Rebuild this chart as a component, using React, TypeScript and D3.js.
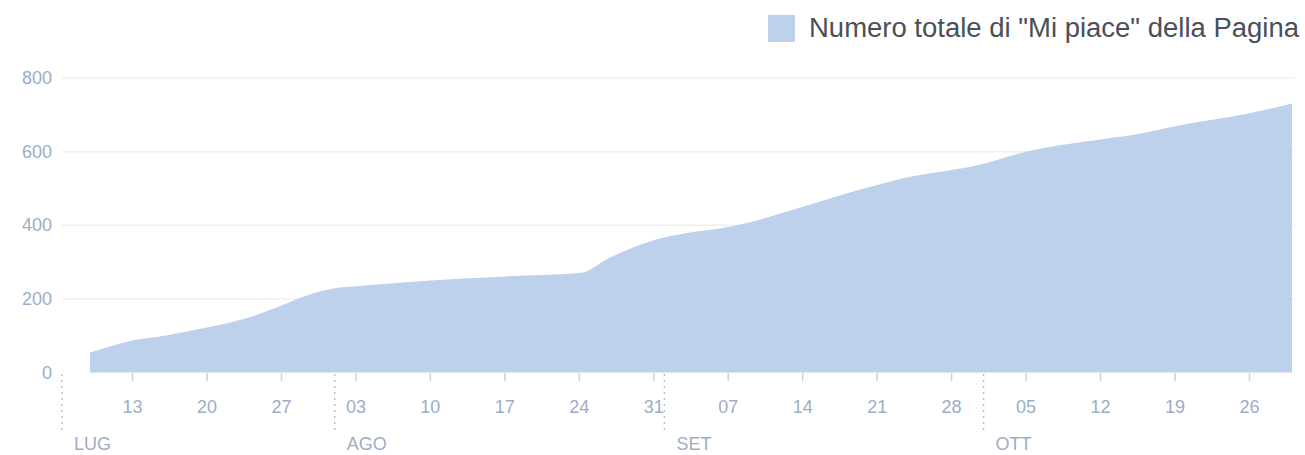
import React from "react";
import * as d3 from "d3";

// likes per day (cumulative)
const dates = [
  "2015-07-09", "2015-07-13", "2015-07-16", "2015-07-20", "2015-07-24", "2015-07-27",
  "2015-07-30", "2015-08-01", "2015-08-03", "2015-08-10", "2015-08-17", "2015-08-24",
  "2015-08-27", "2015-08-31", "2015-09-03", "2015-09-07", "2015-09-14", "2015-09-17",
  "2015-09-21", "2015-09-24", "2015-09-28", "2015-09-30", "2015-10-05", "2015-10-12",
  "2015-10-15", "2015-10-19", "2015-10-26", "2015-10-30"
];
const likes = [
  54, 87, 100, 122, 150, 182,
  215, 229, 234, 250, 261, 270,
  314, 359, 378, 395, 450, 477,
  509, 531, 550, 560, 600, 633,
  645, 669, 704, 731
];
const yTicks = [0, 200, 400, 600, 800];
const monthNames = ["LUG", "AGO", "SET", "OTT"];
const legendLabel = 'Numero totale di "Mi piace" della Pagina';

const W = 1305;
const H = 455;
const left = 62;
const right = 1295;
const AREA = "#bdd1ec";
const AXIS_TEXT = "#9cadc8";
const FONT = "Helvetica, Arial, 'Liberation Sans', sans-serif";

const App = () => {
  const parse = d3.timeParse("%Y-%m-%d");
  const data = dates.map((d, i) => ({ date: parse(d) as Date, value: likes[i] }));

  const x = d3
    .scaleTime()
    .domain([data[0].date, data[data.length - 1].date])
    .range([90, 1292]);
  const y = d3.scaleLinear().domain([0, 800]).range([372.5, 78]);

  const area = d3
    .area<{ date: Date; value: number }>()
    .x(d => x(d.date))
    .y0(y(0))
    .y1(d => y(d.value))
    .curve(d3.curveMonotoneX);

  const weekTicks = d3.timeMonday.range(new Date(2015, 6, 10), new Date(2015, 9, 31));
  const fmt = d3.timeFormat("%d");
  const months = d3.timeMonth.range(new Date(2015, 6, 1), new Date(2015, 9, 2));

  return (
    <div style={{ position: "absolute", left: 0, top: 0 }}>
      <svg width={W} height={H} style={{ display: "block", background: "#fff" }}>
        {/* legend */}
        <rect x={768} y={15} width={27} height={27} fill={AREA} />
        <text
          x={809}
          y={37}
          fontSize={27}
          fontFamily={FONT}
          fill="#4b4f56"
          textLength={490}
          lengthAdjust="spacingAndGlyphs"
        >
          {legendLabel}
        </text>

        {/* grid + y labels */}
        {yTicks.map(t => (
          <g key={t}>
            {t > 0 && (
              <line x1={left} x2={right} y1={y(t)} y2={y(t)} stroke="#efefef" strokeWidth={1.5} />
            )}
            <text
              x={52}
              y={y(t) + 6}
              textAnchor="end"
              fontSize={18}
              fontFamily={FONT}
              fill={AXIS_TEXT}
            >
              {t}
            </text>
          </g>
        ))}

        <path d={area(data) || ""} fill={AREA} />

        {/* week ticks */}
        {weekTicks.map(d => (
          <g key={+d}>
            <line x1={x(d)} x2={x(d)} y1={373} y2={381} stroke="#ccd3de" strokeWidth={1.5} />
            <text
              x={x(d)}
              y={413}
              textAnchor="middle"
              fontSize={18}
              fontFamily={FONT}
              fill={AXIS_TEXT}
            >
              {fmt(d)}
            </text>
          </g>
        ))}

        {/* month separators */}
        {months.map((m, i) => {
          const mx = Math.max(left, x(m));
          return (
            <g key={i}>
              <line
                x1={mx}
                x2={mx}
                y1={374}
                y2={433}
                stroke="#b9bec8"
                strokeWidth={1.5}
                strokeDasharray="2,4"
              />
              <text x={mx + 12} y={450} fontSize={18} fontFamily={FONT} fill={AXIS_TEXT}>
                {monthNames[i]}
              </text>
            </g>
          );
        })}
      </svg>
    </div>
  );
};

export default App;
